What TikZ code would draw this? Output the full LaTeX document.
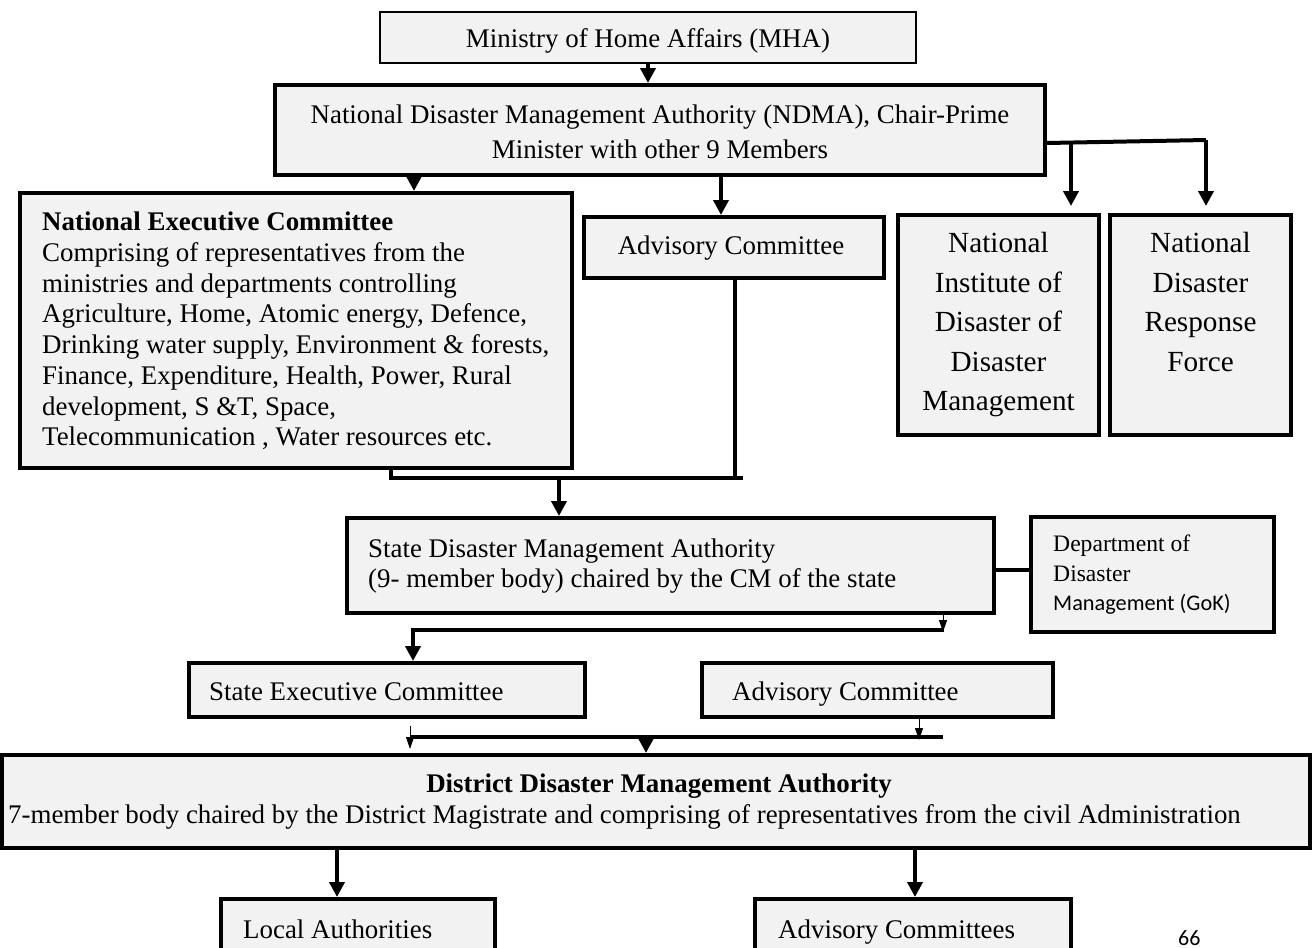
\documentclass[tikz,border=0pt]{standalone}
\usepackage{fontspec}
\setmainfont{Liberation Serif}
\newfontfamily\calibri{Carlito}
\usetikzlibrary{arrows.meta}
\definecolor{boxfill}{RGB}{242,242,242}
\begin{document}
\begin{tikzpicture}[x=1pt,y=-1pt,
  box/.style={draw=black, line width=4pt, fill=boxfill, inner sep=0pt},
  txt/.style={inner sep=0pt, font=\fontsize{26.9}{30.4}\selectfont},
  conn/.style={line width=4pt, -{Triangle[width=15pt,length=15pt]}},
  thinarr/.style={line width=1pt, -{Triangle[width=8pt,length=12pt]}},
  bar/.style={line width=4pt, line join=miter}]
\useasboundingbox (0,0) rectangle (1315,948);
\fill[white] (0,0) rectangle (1315,948);
\clip (0,0) rectangle (1315,948);

% boxes
\node[box, line width=2.5pt, minimum width=536pt, minimum height=51pt] (mha) at (648,37.5) {};
\node[txt, anchor=base] (mhat) at (648,47) {Ministry of Home Affairs (MHA)};
\node[box, minimum width=770pt, minimum height=90pt] (ndma) at (660,130) {};
\node[txt, align=center, font=\fontsize{26.9}{35}\selectfont] (ndmat) at (660,132) {National Disaster Management Authority (NDMA), Chair-Prime\\Minister with other 9 Members};
\node[box, minimum width=552pt, minimum height=275pt] (nec) at (296,330.5) {};
\node[txt, anchor=west, align=left, font=\fontsize{26.9}{30.7}\selectfont] (nect) at (42,331) {\textbf{National Executive Committee}\\Comprising of representatives from the\\ministries and departments controlling\\Agriculture, Home, Atomic energy, Defence,\\Drinking water supply, Environment \& forests,\\Finance, Expenditure, Health, Power, Rural\\development, S \&T, Space,\\Telecommunication , Water resources etc.};
\node[box, minimum width=300pt, minimum height=61pt] (adv) at (734,247.5) {};
\node[txt, anchor=base] (advt) at (731,254) {Advisory Committee};
\node[box, minimum width=201pt, minimum height=220pt, align=center, font=\fontsize{29.2}{39.5}\selectfont] (nidm) at (998.5,325) {National\\Institute of\\Disaster of\\Disaster\\Management};
\node[box, minimum width=181pt, minimum height=220pt] (ndrf) at (1200.5,325) {};
\node[inner sep=0pt, align=center, font=\fontsize{29.2}{39.5}\selectfont] (ndrft) at (1200.5,302) {National\\Disaster\\Response\\Force};
\node[box, minimum width=647pt, minimum height=95pt] (sdma) at (670.5,565.5) {};
\node[txt, anchor=west, align=left] (sdmat) at (368,566) {State Disaster Management Authority\\(9- member body) chaired by the CM of the state};
\node[box, minimum width=243pt, minimum height=115pt] (dept) at (1152.5,574.5) {};
\node[inner sep=0pt, anchor=west, align=left, font=\fontsize{23.6}{29.5}\selectfont] (deptt) at (1053,575) {Department of\\Disaster\\{\calibri\fontsize{22.3}{29.5}\selectfont Management (GoK)}};
\node[box, minimum width=396pt, minimum height=54pt] (sec) at (387,690) {};
\node[txt, anchor=base west] (sect) at (209,700) {State Executive Committee};
\node[box, minimum width=351pt, minimum height=54pt] (advs) at (877.5,690) {};
\node[txt, anchor=base west] (advst) at (732,700) {Advisory Committee};
\node[box, minimum width=1308pt, minimum height=93pt] (ddma) at (656,801.5) {};
\node[txt, anchor=base] (ddmat) at (659,792) {\textbf{District Disaster Management Authority}};
\node[txt, anchor=base west] (ddmab) at (8,823) {7-member body chaired by the District Magistrate and comprising of representatives from the civil Administration};
\node[box, minimum width=274pt, minimum height=66pt] (local) at (358,932) {};
\node[txt, anchor=base west] (localt) at (243,938) {Local Authorities};
\node[box, minimum width=316pt, minimum height=66pt] (advc) at (913,932) {};
\node[txt, anchor=base west] (advct) at (778,938) {Advisory Committees};
\node[inner sep=0pt, anchor=base west, font=\calibri\fontsize{22}{26}\selectfont] (pg) at (1178,945) {66};

% connector points
\coordinate (ka) at (414,0);
\coordinate (kb) at (721,0);
\coordinate (kc) at (1071,142);
\coordinate (kd) at (1206,140);
\coordinate (ry) at (0,143);
\coordinate (ke) at (391,478);
\coordinate (kf) at (735,478);
\coordinate (kfe) at (743,478);
\coordinate (kg) at (559,478);
\coordinate (sy) at (0,570);
\coordinate (kh) at (943,632);
\coordinate (bl) at (413,630);
\coordinate (br) at (944,630);
\coordinate (kj) at (919,740);
\coordinate (cl) at (410,737);
\coordinate (cr) at (943,737);
\coordinate (kk) at (410,726);
\coordinate (kke) at (410,749);
\coordinate (km) at (646,737);
\coordinate (kn) at (337,0);
\coordinate (ko) at (915,0);

% connectors
\draw[conn] (mha.south) -- (mha.south |- ndma.north);
\draw[conn] (ndma.south -| ka) -- (nec.north -| ka);
\draw[conn] (ndma.south -| kb) -- (adv.north -| kb);
\draw[bar] (ndma.east |- ry) -- (kd);
\draw[conn, shorten >=7pt] (kc) -- (nidm.north -| kc);
\draw[conn, shorten >=7pt] (kd) -- (ndrf.north -| kd);
\draw[bar] (nec.south -| ke) -- (ke) -- (kfe);
\draw[bar] (adv.south -| kf) -- (kf);
\draw[conn] (kg) -- (sdma.north -| kg);
\draw[bar] (sdma.east |- sy) -- (dept.west |- sy);
\draw[thinarr] (sdma.south -| kh) -- (kh);
\draw[conn, line join=miter] (br) -- (bl) -- (sec.north -| bl);
\draw[thinarr] (advs.south -| kj) -- (kj);
\draw[bar] (cl) -- (cr);
\draw[thinarr] (kk) -- (kke);
\draw[conn] (km) -- (ddma.north -| km);
\draw[conn] (ddma.south -| kn) -- (local.north -| kn);
\draw[conn] (ddma.south -| ko) -- (advc.north -| ko);
\end{tikzpicture}
\end{document}
